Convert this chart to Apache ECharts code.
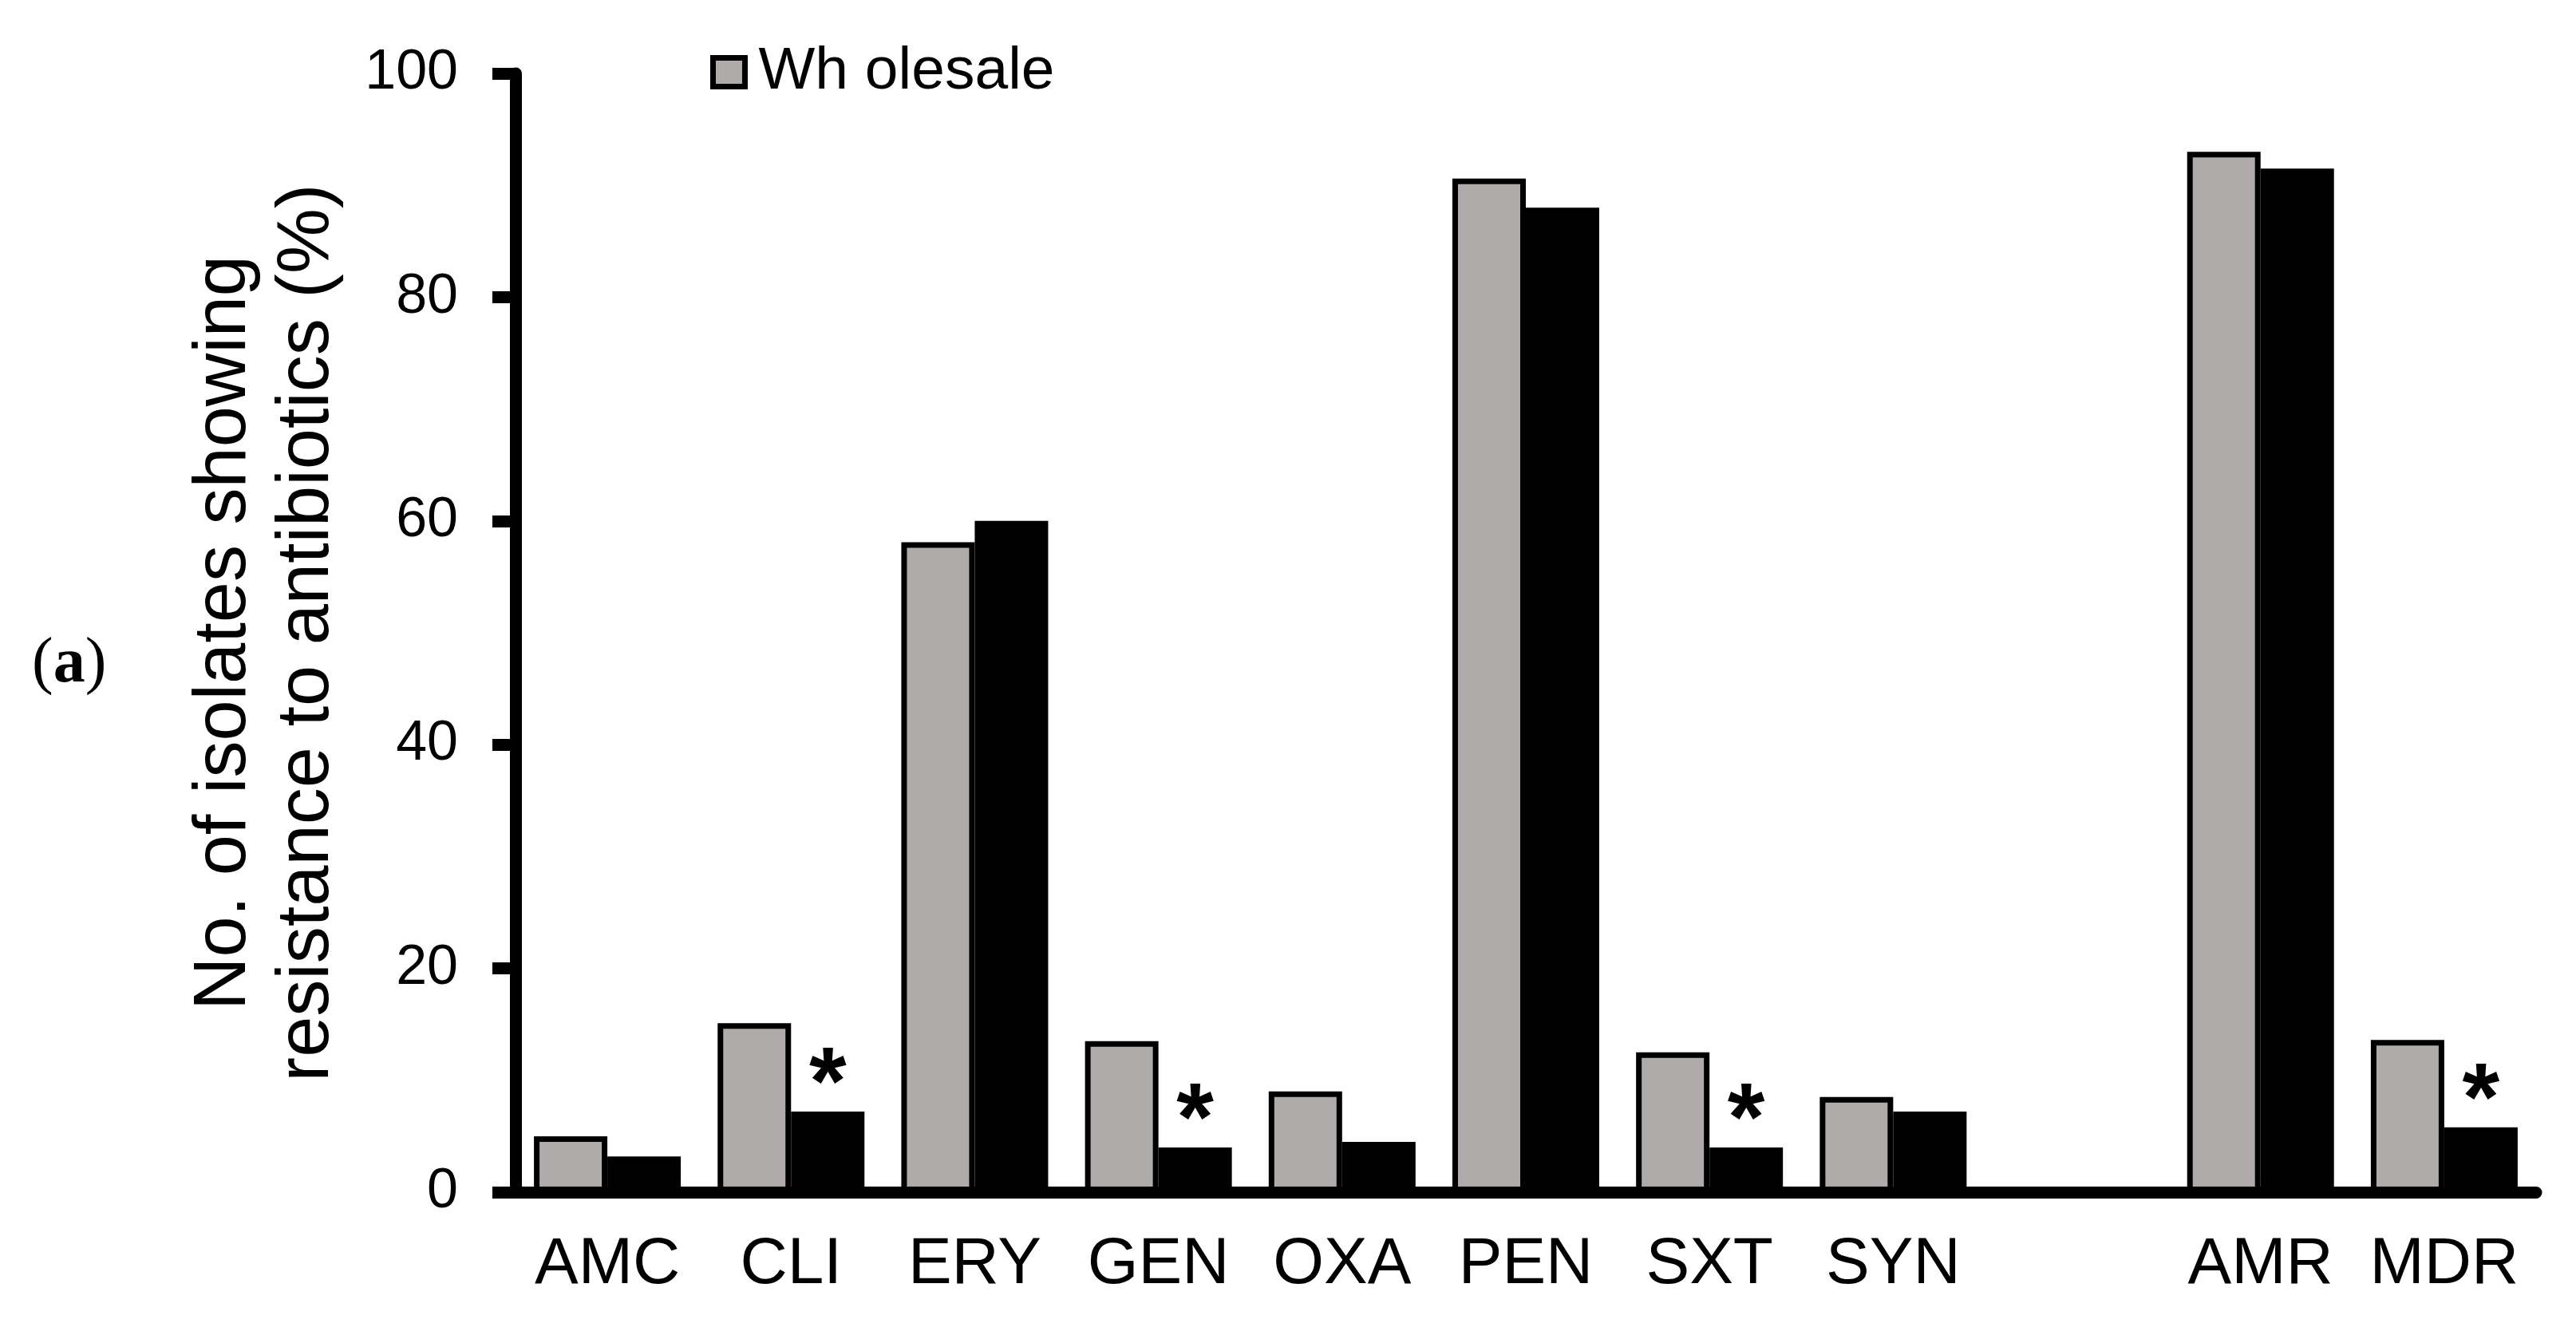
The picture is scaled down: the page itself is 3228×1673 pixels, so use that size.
<!DOCTYPE html>
<html>
<head>
<meta charset="utf-8">
<script src="https://cdn.jsdelivr.net/npm/echarts@6/dist/echarts.min.js"></script>
<style>
  html, body { margin: 0; padding: 0; background: #fff; }
  #main { width: 3228px; height: 1673px; }
</style>
</head>
<body>
<div id="main"></div>
<script>
// antibiotic categories (blank slot between SYN and AMR)
const categories = ['AMC', 'CLI', 'ERY', 'GEN', 'OXA', 'PEN', 'SXT', 'SYN', '', 'AMR', 'MDR'];
const wholesale = [5.0, 15.1, 58.1, 13.5, 9.0, 90.6, 12.5, 8.5, null, 93.0, 13.6];
const retail = [3.2, 7.2, 60.0, 4.0, 4.5, 88.0, 4.0, 7.2, null, 91.5, 5.8];
const significant = ['', '*', '', '*', '', '', '*', '', '', '', '*'];
const yTicks = [0, 20, 40, 60, 80, 100];

const font = 'Liberation Sans';

let option = {
  animation: false,
  textStyle: { fontFamily: font, color: '#000' },
  grid: {
    left: 646,
    right: 50,
    top: 92,
    bottom: 179,
    containLabel: false,
    outerBoundsMode: 'none'
  },
  legend: {
    data: ['Wh olesale'],
    left: 885,
    top: 48,
    icon: 'rect',
    itemWidth: 40,
    itemHeight: 36,
    itemStyle: { color: '#afabab', borderColor: '#000', borderWidth: 7 },
    textStyle: { fontFamily: font, fontSize: 75, color: '#000', padding: [0, 0, 0, 12] }
  },
  xAxis: {
    type: 'category',
    data: categories,
    axisLine: { lineStyle: { color: '#000', width: 15 } },
    axisTick: { length: 26, lineStyle: { color: '#000', width: 15 } },
    axisLabel: { fontFamily: font, fontSize: 82, color: '#000', margin: 50, interval: 0 }
  },
  yAxis: {
    type: 'value',
    min: yTicks[0],
    max: yTicks[yTicks.length - 1],
    interval: yTicks[1] - yTicks[0],
    name: 'No. of isolates showing\nresistance to antibiotics (%)',
    nameLocation: 'middle',
    nameRotate: 90,
    nameGap: 208,
    nameTextStyle: { fontFamily: font, fontSize: 92, lineHeight: 104, color: '#000' },
    axisLine: { show: true, lineStyle: { color: '#000', width: 15 } },
    axisTick: { show: true, length: 29, lineStyle: { color: '#000', width: 15 } },
    axisLabel: { fontFamily: font, fontSize: 70, color: '#000', margin: 72 },
    splitLine: { show: false }
  },
  graphic: [
    {
      type: 'text',
      left: 40,
      top: 793,
      style: {
        text: '{p|(}{b|a}{p|)}',
        rich: {
          p: { fontFamily: 'Liberation Serif', fontSize: 80, fill: '#000' },
          b: { fontFamily: 'Liberation Serif', fontSize: 80, fontWeight: 'bold', fill: '#000' }
        }
      }
    }
  ],
  series: [
    {
      name: 'Wh olesale',
      type: 'bar',
      data: wholesale,
      barWidth: 92,
      barGap: '0%',
      itemStyle: { color: '#afabab', borderColor: '#000', borderWidth: 7 }
    },
    {
      name: 'Retail',
      type: 'bar',
      data: retail,
      barWidth: 92,
      barGap: '0%',
      itemStyle: { color: '#000' },
      label: {
        show: true,
        position: 'top',
        distance: -30,
        formatter: function (p) { return significant[p.dataIndex]; },
        fontFamily: font,
        fontSize: 120,
        fontWeight: 'bold',
        color: '#000'
      }
    }
  ]
};

let myChart = echarts.init(document.getElementById('main'));
myChart.setOption(option);
</script>
</body>
</html>
